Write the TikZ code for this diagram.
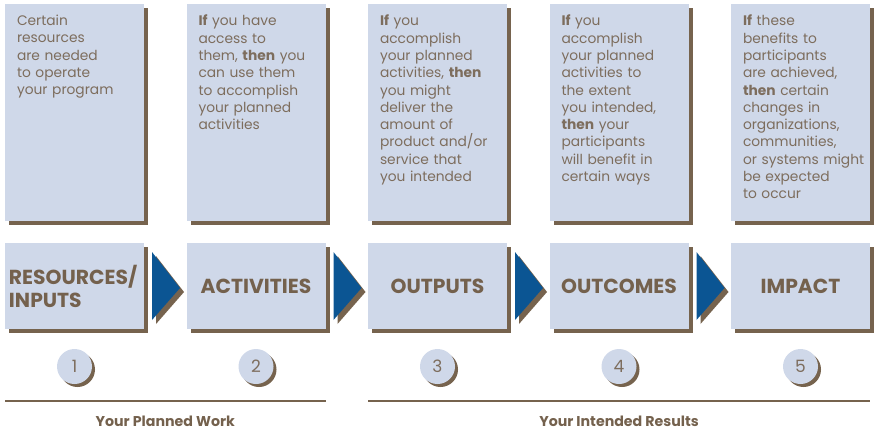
\documentclass[tikz,border=0pt]{standalone}
\usepackage{fontspec}
\setmainfont{Poppins}
\usetikzlibrary{positioning,shadows,calc}
\definecolor{boxblue}{HTML}{CFD8E9}
\definecolor{boxbrown}{HTML}{76634E}
\definecolor{textbrown}{HTML}{7D6D5D}
\definecolor{headbrown}{HTML}{74614D}
\definecolor{arrowblue}{HTML}{0B5593}

\begin{document}
\begin{tikzpicture}[x=1pt,y=1pt,inner sep=0pt,outer sep=0pt,
    node distance=22pt and 42.5pt,
    shadebox/.style={fill=boxblue,general shadow={fill=boxbrown,shadow xshift=4pt,shadow yshift=-4pt}},
    tall/.style={shadebox,minimum width=139pt,minimum height=217pt},
    flat/.style={shadebox,minimum width=139pt,minimum height=86pt,text=headbrown,
        font=\bfseries\fontsize{20.3}{23}\selectfont},
    blurb/.style={text width=126pt,align=left,text=textbrown,font=\fontsize{13.8}{17.3}\selectfont},
    num/.style={circle,fill=boxblue,minimum size=35pt,text=textbrown,font=\fontsize{17}{17}\selectfont,
        general shadow={fill=boxbrown,shadow xshift=3pt,shadow yshift=-3pt}},
    rule/.style={boxbrown,line width=2.5pt},
    foot/.style={text=headbrown,font=\bfseries\fontsize{14.2}{16}\selectfont}]
    \useasboundingbox (0,0) rectangle (876,-431);
    \node[tall,anchor=north west] (t1) at (5,-4) {};
    \node[tall,right=of t1] (t2) {};
    \node[tall,right=of t2] (t3) {};
    \node[tall,right=of t3] (t4) {};
    \node[tall,right=of t4] (t5) {};
    \node[blurb,anchor=north west] (s1) at ($(t1.north west)+(12,-11)$)
        {Certain\\resources\\are needed\\to operate\\your program};
    \node[blurb,anchor=north west] (s2) at ($(t2.north west)+(12,-11)$)
        {\textbf{If} you have\\access to\\them, \textbf{then} you\\can use them\\to accomplish\\your planned\\activities};
    \node[blurb,anchor=north west] (s3) at ($(t3.north west)+(12,-11)$)
        {\textbf{If} you\\accomplish\\your planned\\activities, \textbf{then}\\you might\\deliver the\\amount of\\product and/or\\service that\\you intended};
    \node[blurb,anchor=north west] (s4) at ($(t4.north west)+(12,-11)$)
        {\textbf{If} you\\accomplish\\your planned\\activities to\\the extent\\you intended,\\\textbf{then} your\\participants\\will benefit in\\certain ways};
    \node[blurb,anchor=north west] (s5) at ($(t5.north west)+(12,-11)$)
        {\textbf{If} these\\benefits to\\participants\\are achieved,\\\textbf{then} certain\\changes in\\organizations,\\communities,\\or systems might\\be expected\\to occur};
    \node[flat,below=of t1,text width=131pt,align=left] (b1) {RESOURCES/\\INPUTS};
    \node[flat,below=of t2] (b2) {ACTIVITIES};
    \node[flat,below=of t3] (b3) {OUTPUTS};
    \node[flat,below=of t4] (b4) {OUTCOMES};
    \node[flat,below=of t5] (b5) {IMPACT};
    \foreach \a in {1,...,4}
        \fill[arrowblue,general shadow={fill=boxbrown,shadow xshift=4pt,shadow yshift=-4pt}]
            ($(b\a.east)+(8,34)$) -- ($(b\a.east)+(36,-2)$) -- ($(b\a.east)+(8,-34)$) -- cycle;
    \foreach \i in {1,...,5}
        \node[num,below=20pt of b\i] (n\i) {\i};
    \coordinate[below=17pt of n1] (r);
    \draw[rule] (b1.west |- r) -- (b2.east |- r)
        node[foot,midway,below=15pt] (w1) {Your Planned Work};
    \draw[rule] (b3.west |- r) -- (b5.east |- r)
        node[foot,midway,below=15pt] (w2) {Your Intended Results};
\end{tikzpicture}
\end{document}
